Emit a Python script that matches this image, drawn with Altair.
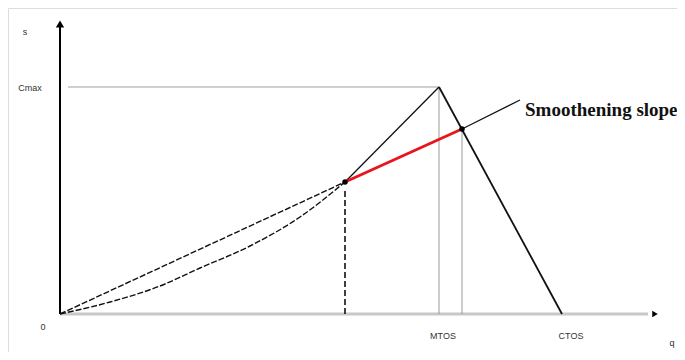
import altair as alt
import pandas as pd

# ---- data (diagram units: q to the right, s upward, origin at 0,0) ----
upper_q = [0, 285]
upper_s = [0, 132]
red_q = [285, 402]
red_s = [132, 185]
ext_q = [402, 460]
ext_s = [185, 214]
lower_q = [0, 50, 100, 140, 190, 240, 285]
lower_s = [0, 12, 28, 46, 68, 97, 132]
steep_q = [285, 379]
steep_s = [132, 227]
fall_q = [379, 502]
fall_s = [227, 0]
dot_q = [285, 402]
dot_s = [132, 185]
cmax_s = 227
mtos_q = 379
ctos_q = 502
label_text = ["s", "Cmax", "0", "MTOS", "CTOS", "q", "Smoothening slope"]
label_q = [-35, -30, -17, 383, 511, 612, 465]
label_s = [282, 226, -13, -22, -22, -29, 204]

X = alt.Scale(domain=[-52, 617], nice=False, zero=False)
Y = alt.Scale(domain=[-38, 306], nice=False, zero=False)

def seg(q, s, name):
    return pd.DataFrame({"q": q, "s": s, "id": name})

def line(df, color="#111", width=1.4, dash=None, interp="linear"):
    kw = dict(color=color, strokeWidth=width, interpolate=interp, clip=False)
    if dash:
        kw["strokeDash"] = dash
    return alt.Chart(df).mark_line(**kw).encode(
        x=alt.X("q:Q", scale=X, axis=None),
        y=alt.Y("s:Q", scale=Y, axis=None),
        order="q:Q",
    )

layers = []
# x axis (light gray) and y axis (black)
layers.append(line(seg([0, 588], [0, 0], "xa"), color="#c8c8c8", width=3))
layers.append(line(seg([0, 0], [0, 290], "ya"), color="#000", width=2))
# arrow heads
layers.append(alt.Chart(pd.DataFrame({"q": [0], "s": [290]})).mark_point(
    shape="triangle-up", filled=True, color="#000", size=70, opacity=1).encode(
    x=alt.X("q:Q", scale=X, axis=None), y=alt.Y("s:Q", scale=Y, axis=None)))
layers.append(alt.Chart(pd.DataFrame({"q": [595], "s": [0]})).mark_point(
    shape="triangle-right", filled=True, color="#000", size=40, opacity=1).encode(
    x=alt.X("q:Q", scale=X, axis=None), y=alt.Y("s:Q", scale=Y, axis=None)))
# guide lines
layers.append(line(seg([8, mtos_q], [cmax_s, cmax_s], "cm"), color="#a0a0a0", width=1))
layers.append(line(seg([mtos_q, mtos_q], [0, cmax_s], "mt"), color="#999", width=1))
layers.append(line(seg([dot_q[1], dot_q[1]], [0, dot_s[1]], "it"), color="#999", width=1))
layers.append(line(seg([dot_q[0], dot_q[0]], [0, dot_s[0] - 8], "dv"), color="#111", width=1.6, dash=[6, 3]))
# curves
layers.append(line(seg(upper_q, upper_s, "up"), width=1.4, dash=[6, 2]))
layers.append(line(seg(lower_q, lower_s, "lo"), width=1.4, dash=[6, 2], interp="monotone"))
layers.append(line(seg(steep_q, steep_s, "st"), width=1.3))
layers.append(line(seg(fall_q, fall_s, "fa"), width=1.8))
layers.append(line(seg(ext_q, ext_s, "ex"), width=1.3))
layers.append(line(seg(red_q, red_s, "rd"), color="#e8141b", width=2.8))
# dots
layers.append(alt.Chart(pd.DataFrame({"q": dot_q, "s": dot_s})).mark_circle(
    color="#000", size=30, opacity=1).encode(
    x=alt.X("q:Q", scale=X, axis=None), y=alt.Y("s:Q", scale=Y, axis=None)))
# labels
lab = pd.DataFrame({"q": label_q, "s": label_s, "t": label_text})
small = lab[lab.t != "Smoothening slope"]
big = lab[lab.t == "Smoothening slope"]
layers.append(alt.Chart(small).mark_text(
    font="Liberation Sans", fontSize=9, color="#333", align="center", baseline="middle").encode(
    x=alt.X("q:Q", scale=X, axis=None), y=alt.Y("s:Q", scale=Y, axis=None), text="t:N"))
layers.append(alt.Chart(big).mark_text(
    font="Liberation Serif", fontSize=19, fontWeight="bold", color="#111", align="left", baseline="middle").encode(
    x=alt.X("q:Q", scale=X, axis=None), y=alt.Y("s:Q", scale=Y, axis=None), text="t:N"))

chart = alt.layer(*layers).properties(
    width=669, height=344, padding=0, autosize="none"
).configure_view(stroke=None).configure(background="#ffffff")

chart.save("out.html", embed_options={"renderer": "svg", "actions": False})
